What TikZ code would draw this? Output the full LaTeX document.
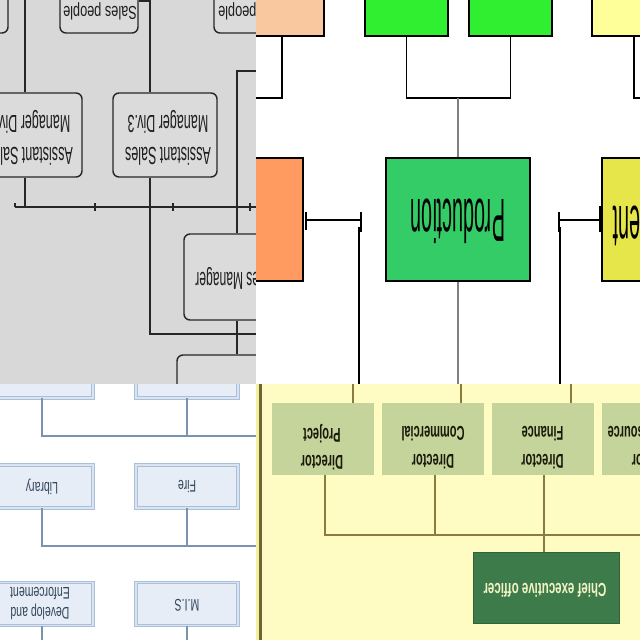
\documentclass[tikz,border=0pt]{standalone}
\usepackage{fontspec}
\setmainfont{Liberation Sans}
\definecolor{p1bg}{HTML}{D8D8D8}
\definecolor{p1fill}{HTML}{DBDBDB}
\definecolor{p1ln}{HTML}{262626}
\definecolor{p1tx}{HTML}{1E1E1E}
\definecolor{peach}{HTML}{FAC89E}
\definecolor{brgreen}{HTML}{30EE30}
\definecolor{ltyellow}{HTML}{FFFF99}
\definecolor{orange2}{HTML}{FF9A60}
\definecolor{prodgreen}{HTML}{33CC66}
\definecolor{yellow2}{HTML}{E6E64A}
\definecolor{p2gray}{HTML}{808080}
\definecolor{p3fill}{HTML}{E6EDF7}
\definecolor{p3edge}{HTML}{A9BFDA}
\definecolor{p3ln}{HTML}{7A93AE}
\definecolor{p3tx}{HTML}{34465A}
\definecolor{p4bg}{HTML}{FEFCC3}
\definecolor{p4box}{HTML}{C5D49A}
\definecolor{p4ln}{HTML}{8B7B3E}
\definecolor{p4ceo}{HTML}{3D7C4A}
\definecolor{p4tx}{HTML}{1A1A0A}
\definecolor{p4ceotx}{HTML}{F2F2C6}
\definecolor{p4edge}{HTML}{6B6632}
\definecolor{p4light}{HTML}{F4F0A0}
\begin{document}
\begin{tikzpicture}[x=1pt,y=-1pt,
  p1box/.style={draw=p1ln, line width=1.4, rounded corners=6, fill=p1fill, inner sep=0},
  p1wire/.style={draw=p1ln, line width=1.4},
  p1txt/.style={rotate=180, inner sep=0, text=p1tx, align=center},
  p2box/.style={draw=black, line width=1.6, inner sep=0},
  p2wire/.style={draw=black, line width=1.5},
  p2grey/.style={draw=p2gray, line width=1.5},
  p2txt/.style={rotate=180, inner sep=0, xscale=0.34, yscale=1.05, font=\fontsize{58}{60}\selectfont},
  p3box/.style={draw=p3edge, line width=0.8, double=p3fill!80!p3edge, double distance=1.6, fill=p3fill, inner sep=0, minimum width=102, minimum height=43},
  p3wire/.style={draw=p3ln, line width=1.3},
  p3txt/.style={rotate=180, inner sep=0, xscale=0.75, yscale=1.2, text=p3tx, align=center, font=\fontsize{14}{16}\selectfont},
  p4box/.style={fill=p4box, inner sep=0, minimum width=102, minimum height=72},
  p4wire/.style={draw=p4ln, line width=1.7},
  p4txt/.style={rotate=180, inner sep=0, xscale=0.58, yscale=1.05, text=p4tx, align=center, font=\bfseries\fontsize{19}{26}\selectfont}
]
\useasboundingbox (0,0) rectangle (640,640);

% ---------------- panel 1 (top left) ----------------
\begin{scope}
\clip (0,0) rectangle (256,384);
\fill[p1bg] (0,0) rectangle (256,384);
\node[p1box, minimum width=68, minimum height=73] (sp0) at (-26,-3.5) {};
\node[p1box, minimum width=78, minimum height=42] (sp1) at (99,12) {};
\node[p1box, minimum width=82, minimum height=42] (sp2) at (255,12) {};
\node[p1box, minimum width=104, minimum height=84] (asm2) at (30,135) {};
\node[p1box, minimum width=104, minimum height=84] (asm3) at (165,135) {};
\node[p1box, minimum width=106, minimum height=86] (sm) at (237,277) {};
\node[p1box, minimum width=122, minimum height=66] (gm) at (238,388) {};
\node[p1txt, xscale=0.75, yscale=1.1, font=\fontsize{17}{20}\selectfont] (sp1t) at (100,11) {Sales people};
\node[p1txt, xscale=0.75, yscale=1.1, font=\fontsize{17}{20}\selectfont] (sp2t) at (255,11) {Sales people};
\node[p1txt, xscale=0.57, yscale=1.12, font=\fontsize{22}{29}\selectfont] (asm2t) at (30,138) {Assistant Sales\\Manager Div.2};
\node[p1txt, xscale=0.57, yscale=1.12, font=\fontsize{22}{29}\selectfont] (asm3t) at (168,138) {Assistant Sales\\Manager Div.3};
\node[p1txt, xscale=0.55, yscale=1.12, font=\fontsize{22}{29}\selectfont] (smt) at (236,279) {Sales Manager};
\coordinate (p1a) at (25,-5);
\coordinate (p1b) at (150,-5);
\coordinate (p1s) at (150,1);
\draw[p1wire] (p1a) -- (p1a |- asm2.north);
\draw[p1wire] (p1b) -- (p1b |- asm3.north);
\draw[p1wire] (sp1.east |- p1s) -- (p1s);
\coordinate (bus1L) at (15,207);
\coordinate (bus1R) at (262,207);
\draw[p1wire] (bus1L) -- (bus1R);
\draw[p1wire] (15,203) -- (bus1L);
\draw[p1wire] (p1a |- asm2.south) -- (p1a |- bus1L);
\coordinate (p1c) at (150,334);
\coordinate (p1cR) at (262,334);
\draw[p1wire] (p1b |- asm3.south) -- (p1c) -- (p1cR);
\coordinate (p1d) at (262,71);
\draw[p1wire] (sm.north) -- (sm.north |- p1d) -- (p1d);
\draw[p1wire] (sm.south) -- (sm.south |- gm.north);
\foreach \x in {95,173,250} \draw[p1wire] (\x,203) -- (\x,211);
\end{scope}

% ---------------- panel 2 (top right) ----------------
\begin{scope}
\clip (256,0) rectangle (640,384);
\fill[white] (256,0) rectangle (640,384);
\node[p2box, fill=peach, minimum width=84, minimum height=66] (o1) at (282,3) {};
\node[p2box, fill=brgreen, minimum width=83, minimum height=66] (g1) at (406.5,3) {};
\node[p2box, fill=brgreen, minimum width=83, minimum height=66] (g2) at (510.5,3) {};
\node[p2box, fill=ltyellow, minimum width=84, minimum height=66] (y1) at (634,3) {};
\node[p2box, fill=orange2, minimum width=103, minimum height=123] (o2) at (251.5,219.5) {};
\node[p2box, fill=prodgreen, minimum width=144, minimum height=123] (prod) at (458,219.5) {};
\node[p2box, fill=yellow2, minimum width=98, minimum height=123] (y2) at (651,219.5) {};
\node[p2txt] (prodt) at (458,221) {Production};
\node[p2txt, anchor=east] (y2t) at (613,221) {Management};
\coordinate (t2a) at (250,98);
\draw[p2wire] (o1.south) -- (o1.south |- t2a) -- (t2a);
\coordinate (t2b) at (458,98);
\draw[p2wire] (g1.south) -- (g1.south |- t2b) -- (g2.south |- t2b) -- (g2.south);
\draw[p2grey] (t2b) -- (prod.north);
\coordinate (t2c) at (646,98);
\draw[p2wire] (y1.south) -- (y1.south |- t2c) -- (t2c);
\coordinate (p2bot) at (458,390);
\draw[p2grey] (prod.south) -- (p2bot);
\coordinate (l2a) at (306,220);
\coordinate (l2b) at (361,220);
\draw[p2wire] (l2a) -- (l2b);
\draw[p2wire] (306,212) -- (306,230);
\draw[p2wire] (361,212) -- (361,232);
\coordinate (l2c) at (359,227);
\coordinate (l2d) at (359,390);
\draw[p2wire] (l2c) -- (l2d);
\coordinate (r2a) at (600,220);
\coordinate (r2b) at (559,220);
\draw[p2wire] (r2a) -- (r2b);
\draw[p2wire] (559,212) -- (559,232);
\draw[p2wire] (600,206) -- (600,232);
\coordinate (r2c) at (560,227);
\coordinate (r2d) at (560,390);
\draw[p2wire] (r2c) -- (r2d);
\end{scope}

% ---------------- panel 3 (bottom left) ----------------
\begin{scope}
\clip (0,384) rectangle (256,640);
\fill[white] (0,384) rectangle (256,640);
\node[p3box] (b1) at (42,376.5) {};
\node[p3box] (b2) at (187,376.5) {};
\node[p3box] (lib) at (42,486.5) {};
\node[p3box] (fire) at (187,486.5) {};
\node[p3box] (dev) at (42,604) {};
\node[p3box] (mis) at (187,604) {};
\node[p3txt] (libt) at (42,486.5) {Library};
\node[p3txt] (firet) at (187,486.5) {Fire};
\node[p3txt] (devt) at (40,603.5) {Develop and\\Enforcement};
\node[p3txt] (mist) at (187,605) {M.I.S};
\coordinate (bus3a) at (262,436);
\draw[p3wire] (b1.south) -- (b1.south |- bus3a) -- (bus3a);
\draw[p3wire] (b2.south) -- (b2.south |- bus3a);
\coordinate (bus3b) at (262,546);
\draw[p3wire] (lib.south) -- (lib.south |- bus3b) -- (bus3b);
\draw[p3wire] (fire.south) -- (fire.south |- bus3b);
\coordinate (e3) at (0,646);
\draw[p3wire] (dev.south) -- (dev.south |- e3);
\draw[p3wire] (mis.south) -- (mis.south |- e3);
\end{scope}

% ---------------- panel 4 (bottom right) ----------------
\begin{scope}
\clip (256,384) rectangle (640,640);
\fill[p4bg] (256,384) rectangle (640,640);
\fill[p4light] (256,384) rectangle (258.5,640);
\fill[p4edge] (258.5,384) rectangle (262,640);
\node[p4box] (dp) at (323,439) {};
\node[p4box] (dc) at (433,439) {};
\node[p4box] (df) at (542.5,439) {};
\node[p4box] (dh) at (653,439) {};
\node[fill=p4ceo, draw=p4ceo!80!black, line width=0.8, inner sep=0, minimum width=146, minimum height=71] (ceo) at (546,587.5) {};
\node[p4txt] (dpt) at (322,447.5) {Director\\Project};
\node[p4txt] (dct) at (433,447.5) {Director\\Commercial};
\node[p4txt] (dft) at (542.5,447.5) {Director\\Finance};
\node[p4txt] (dht) at (653,447.5) {Director\\Human Resource};
\node[rotate=180, inner sep=0, xscale=0.64, yscale=1.05, text=p4ceotx, font=\bfseries\fontsize{18}{20}\selectfont] (ceot) at (545,590) {Chief executive officer};
\coordinate (u1) at (353,378);
\coordinate (u2) at (461,378);
\coordinate (u3) at (571,378);
\draw[p4wire] (u1) -- (u1 |- dp.north);
\draw[p4wire] (u2) -- (u2 |- dc.north);
\draw[p4wire] (u3) -- (u3 |- df.north);
\coordinate (q1) at (325,535);
\coordinate (q2) at (435,535);
\coordinate (q3) at (544,535);
\coordinate (bus4) at (646,535);
\draw[p4wire] (dp.south -| q1) -- (q1) -- (bus4);
\draw[p4wire] (dc.south -| q2) -- (q2);
\draw[p4wire] (df.south -| q3) -- (ceo.north -| q3);
\end{scope}
\end{tikzpicture}
\end{document}
